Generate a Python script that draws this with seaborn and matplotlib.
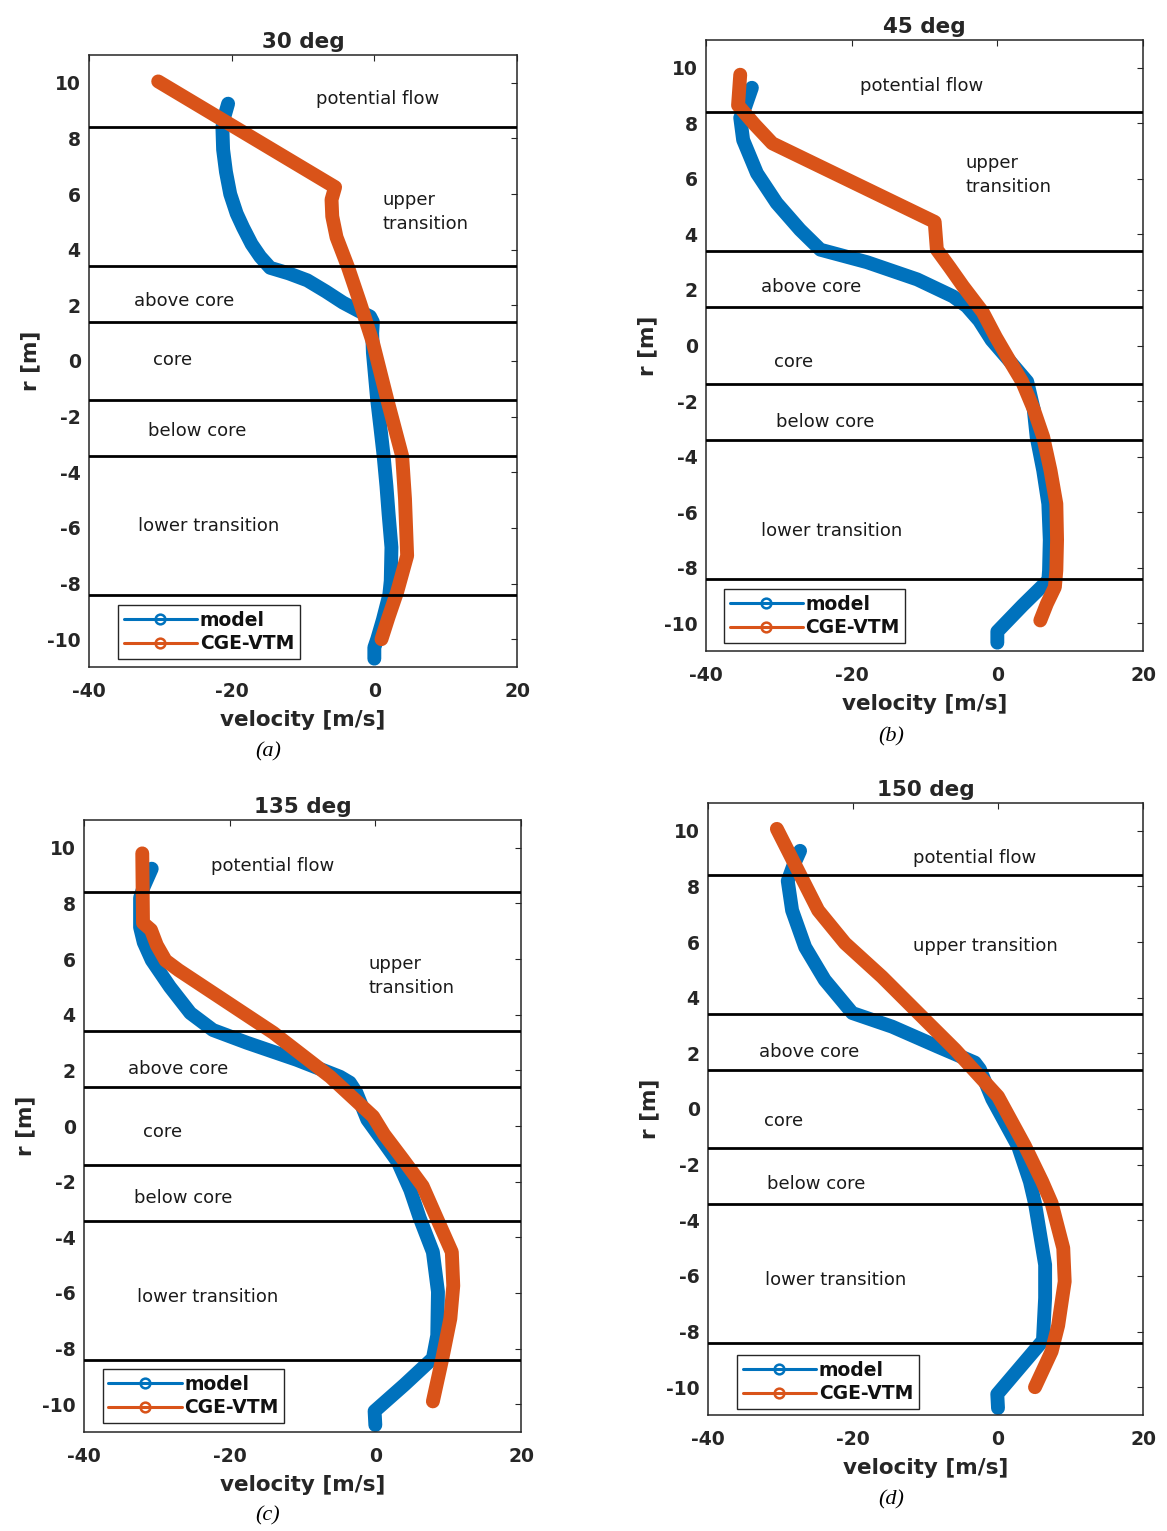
import matplotlib
matplotlib.use("Agg")
import matplotlib.pyplot as plt
import seaborn as sns
import pandas as pd
from matplotlib.lines import Line2D

# ---------------- data ----------------
titles = ["30 deg", "45 deg", "135 deg", "150 deg"]
captions = ["(a)", "(b)", "(c)", "(d)"]
series_names = ["model", "CGE-VTM"]
boundaries = [8.4, 3.4, 1.4, -1.4, -3.4, -8.4]
region_labels = ["potential flow", "upper\ntransition", "above core",
                 "core", "below core", "lower transition"]
x_ticks = [-40, -20, 0, 20]
y_ticks = [-10, -8, -6, -4, -2, 0, 2, 4, 6, 8, 10]

# panel (a) 30 deg
a_model_v = [-20.5, -21.0, -21.3, -21.2, -20.8, -20.2, -19.3, -18.4, -17.2, -16.0, -14.6,
             -12.0, -9.4, -6.8, -4.4, -2.2, -0.6, -0.2, -0.3, -0.2, 0.4, 0.9, 1.3, 1.7,
             2.0, 2.4, 2.3, 2.1, 1.2, 0.4, 0.0, 0.0]
a_model_r = [9.25, 8.8, 8.4, 7.6, 6.8, 6.0, 5.3, 4.8, 4.2, 3.75, 3.35,
             3.15, 2.9, 2.5, 2.1, 1.8, 1.6, 1.4, 1.0, 0.3, -1.4, -2.5, -3.4, -4.5,
             -5.5, -6.7, -7.9, -8.4, -9.3, -10.0, -10.3, -10.7]
a_cge_v = [-30.3, -5.5, -6.0, -5.9, -5.3, -3.7, -2.0, -0.2, 1.8, 3.9, 4.3, 4.6, 3.2, 2.0, 1.0]
a_cge_r = [10.05, 6.25, 5.8, 5.2, 4.45, 3.38, 2.09, 0.66, -1.38, -3.42, -4.96, -7.0,
           -8.3, -9.2, -10.0]

# panel (b) 45 deg
b_model_v = [-33.7, -34.6, -35.3, -34.9, -33.0, -30.3, -27.1, -24.3, -17.9, -11.0, -6.1,
             -4.2, -2.5, -0.8, 1.5, 4.1, 5.0, 5.4, 6.3, 7.0, 7.2, 7.1, 7.0, 3.5, 0.0, 0.0]
b_model_r = [9.28, 8.6, 8.2, 7.4, 6.2, 5.13, 4.17, 3.45, 3.0, 2.38, 1.77,
             1.41, 0.9, 0.2, -0.5, -1.3, -2.3, -3.3, -4.5, -5.7, -7.0, -8.1, -8.45, -9.35,
             -10.3, -10.7]
b_cge_v = [-35.3, -35.6, -33.3, -30.9, -8.6, -8.3, -6.5, -4.7, -2.0, -0.2, 1.8, 3.4, 5.0,
           6.3, 7.3, 8.1, 8.2, 8.1, 7.9, 6.8, 5.9]
b_cge_r = [9.75, 8.65, 7.95, 7.28, 4.45, 3.45, 2.8, 2.13, 1.2, 0.3, -0.6, -1.3, -2.3,
           -3.3, -4.5, -5.7, -7.0, -8.1, -8.7, -9.3, -9.9]

# panel (c) 135 deg
c_model_v = [-30.7, -31.8, -32.3, -32.3, -31.8, -30.7, -28.2, -25.4, -22.3, -17.6, -10.8,
             -4.85, -3.5, -2.6, -1.1, 1.2, 3.1, 4.8, 6.1, 7.9, 8.6, 8.5, 7.9, 4.0, -0.1, 0.0]
c_model_r = [9.25, 8.6, 8.2, 7.14, 6.6, 5.96, 5.0, 4.06, 3.45, 2.99, 2.38,
             1.77, 1.56, 1.2, 0.23, -0.6, -1.3, -2.3, -3.31, -4.53, -5.96, -7.53, -8.35,
             -9.3, -10.25, -10.75]
c_cge_v = [-32.0, -31.9, -30.8, -30.0, -28.8, -27.0, -14.0, -6.2, -0.3, 1.2, 3.8, 6.5,
           8.5, 10.5, 10.7, 10.3, 9.2, 7.9]
c_cge_r = [9.8, 7.3, 7.05, 6.5, 5.95, 5.6, 3.35, 1.77, 0.34, -0.3, -1.2, -2.16,
           -3.35, -4.53, -5.74, -6.92, -8.35, -9.9]

# panel (d) 150 deg
d_model_v = [-27.3, -28.3, -29.0, -28.4, -26.6, -23.9, -20.1, -14.6, -8.3, -3.2, -2.5,
             -0.8, 2.8, 4.4, 5.1, 6.5, 6.5, 6.2, 3.0, -0.1, 0.0]
d_model_r = [9.28, 8.7, 8.2, 7.14, 5.82, 4.64, 3.45, 2.96, 2.24, 1.67, 1.43,
             0.36, -1.36, -2.61, -3.39, -5.6, -6.79, -8.32, -9.3, -10.25, -10.75]
d_cge_v = [-30.5, -24.8, -21.1, -16.0, -11.0, -5.9, 0.0, 3.7, 6.1, 7.4, 9.0, 9.2, 8.3,
           7.4, 5.1]
d_cge_r = [10.07, 7.14, 5.96, 4.75, 3.45, 2.13, 0.45, -1.32, -2.61, -3.39, -5.0, -6.2,
           -7.78, -8.71, -10.0]

panels = [
    ((a_model_v, a_model_r), (a_cge_v, a_cge_r)),
    ((b_model_v, b_model_r), (b_cge_v, b_cge_r)),
    ((c_model_v, c_model_r), (c_cge_v, c_cge_r)),
    ((d_model_v, d_model_r), (d_cge_v, d_cge_r)),
]

# ---------------- layout (pixels) ----------------
W, H = 1167, 1531
axes_px = [(89, 55, 517, 667), (706, 40, 1143, 651), (84, 820, 521, 1432), (708, 803, 1143, 1415)]
legend_anchor = [(0.068, 0.013), (0.041, 0.013), (0.043, 0.015), (0.067, 0.010)]
caption_px = [(268, 752), (891, 737), (268, 1516), (891, 1500)]
# region label positions (data coords, left aligned)
label_pos = [
    [(-8.2, 9.43), (1.1, 5.35), (-33.7, 2.16), (-31.0, 0.02), (-31.7, -2.52), (-33.1, -5.92)],
    [(-18.9, 9.36), (-4.4, 6.14), (-32.4, 2.09), (-30.7, -0.59), (-30.4, -2.74), (-32.4, -6.67)],
    [(-22.6, 9.36), (-0.9, 5.38), (-34.0, 2.06), (-31.9, -0.23), (-33.2, -2.59), (-32.7, -6.13)],
    [(-11.7, 9.04), (-11.7, 5.86), (-33.0, 2.04), (-32.3, -0.43), (-31.9, -2.68), (-32.1, -6.14)],
]
region_text_d = ["potential flow", "upper transition", "above core", "core", "below core",
                 "lower transition"]

colors = ["#0072BD", "#D95319"]
ink = "#262626"

sns.set_theme(style="white")
plt.rcParams["font.family"] = ["DejaVu Sans"]
plt.rcParams["font.weight"] = "bold"
plt.rcParams["axes.titleweight"] = "bold"
plt.rcParams["axes.labelweight"] = "bold"
plt.rcParams["axes.unicode_minus"] = False

fig = plt.figure(figsize=(W / 100, H / 100), dpi=100)
fig.patch.set_facecolor("white")

for i, (series, (l, t, r, b)) in enumerate(zip(panels, axes_px)):
    ax = fig.add_axes([l / W, 1 - b / H, (r - l) / W, (b - t) / H])
    ax.set_facecolor("white")
    for (v, rr), col, name in zip(series, colors, series_names):
        df = pd.DataFrame({"velocity": v, "r": rr})
        sns.lineplot(data=df, x="velocity", y="r", sort=False, estimator=None, ax=ax,
                     color=col, lw=10, solid_capstyle="round", solid_joinstyle="round",
                     legend=False, zorder=2)
    for yb in boundaries:
        ax.axhline(yb, color="black", lw=2.0, zorder=4)

    texts = region_labels if i != 3 else region_text_d
    for txt, (tx, ty) in zip(texts, label_pos[i]):
        ax.text(tx, ty, txt, ha="left", va="center", fontsize=13, fontweight="normal",
                color="#1a1a1a", linespacing=1.45, zorder=5)

    ax.set_xlim(-40, 20)
    ax.set_ylim(-11, 11)
    ax.set_xticks(x_ticks)
    ax.set_yticks(y_ticks)
    ax.tick_params(axis="both", direction="in", top=True, right=True, length=4,
                   width=0.8, color=ink, labelcolor=ink, labelsize=13.5)
    ax.tick_params(axis="x", pad=11)
    ax.tick_params(axis="y", pad=6)
    for sp in ax.spines.values():
        sp.set_visible(True)
        sp.set_color(ink)
        sp.set_linewidth(1.1)
    ax.set_xlabel("velocity [m/s]", fontsize=15.5, color=ink, labelpad=6)
    ax.set_ylabel("r [m]", fontsize=15.5, color=ink, labelpad=5)
    ax.set_title(titles[i], fontsize=15.5, color=ink, pad=5)

    handles = [Line2D([0], [0], color=c, lw=2.2, marker="o", markersize=7,
                      markerfacecolor="none", markeredgewidth=1.8) for c in colors]
    leg = ax.legend(handles, series_names, loc="lower left", bbox_to_anchor=legend_anchor[i],
                    borderaxespad=0, frameon=True, fancybox=False, framealpha=1,
                    edgecolor=ink, fontsize=13.5, handlelength=3.9, handletextpad=0.15,
                    labelspacing=0.25, borderpad=0.3)
    leg.get_frame().set_linewidth(1.0)
    for txt in leg.get_texts():
        txt.set_color("#111111")
        txt.set_fontweight("bold")
    leg.set_zorder(6)

    cx, cy = caption_px[i]
    fig.text(cx / W, 1 - cy / H, captions[i], ha="center", va="center", fontsize=16,
             fontweight="normal", style="italic", family=["Liberation Serif", "DejaVu Serif"],
             color="black")

fig.savefig("out.png", dpi=100, facecolor="white")
